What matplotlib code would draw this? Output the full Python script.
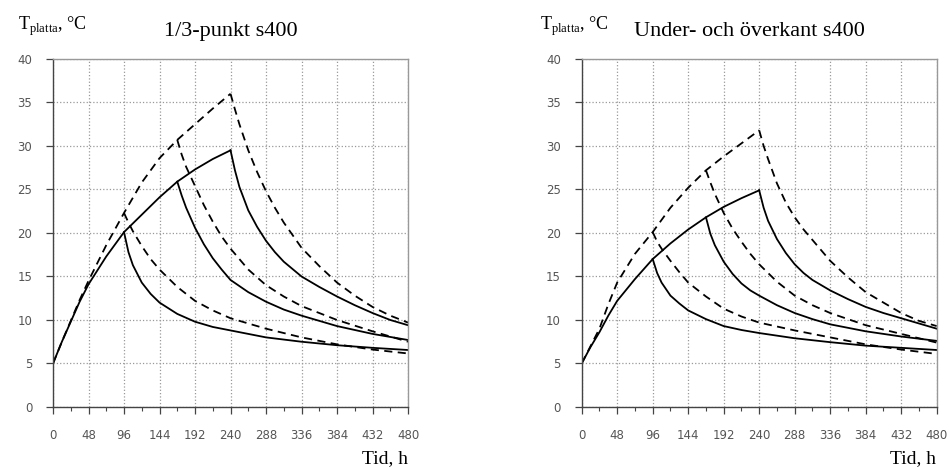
import matplotlib.pyplot as plt

# ---- left panel: 1/3-punkt s400 ----
heat_t = [0, 12, 24, 36, 48, 72, 96, 120, 144, 168, 192, 216, 240]
l_heat_solid = [5, 7.5, 9.8, 12.1, 14.1, 17.3, 20.1, 22.1, 24.1, 25.9, 27.3, 28.5, 29.5]
l_heat_dash = [5, 7.5, 9.9, 12.3, 14.5, 18.6, 22.3, 25.8, 28.6, 30.7, 32.5, 34.3, 36.0]

c96_t = [96, 102, 108, 120, 132, 144, 168, 192, 216, 240, 288, 336, 384, 432, 480]
l_c96_solid = [20.1, 17.8, 16.3, 14.3, 13.0, 12.0, 10.7, 9.8, 9.2, 8.8, 8.0, 7.5, 7.1, 6.8, 6.55]
l_c96_dash = [22.3, 21.2, 20.2, 18.5, 17.0, 15.8, 13.8, 12.2, 11.1, 10.2, 9.0, 8.0, 7.2, 6.6, 6.15]

c168_t = [168, 174, 180, 192, 204, 216, 228, 240, 264, 288, 312, 336, 384, 432, 480]
l_c168_solid = [25.9, 24.3, 22.9, 20.6, 18.7, 17.1, 15.8, 14.6, 13.2, 12.1, 11.2, 10.5, 9.3, 8.4, 7.7]
l_c168_dash = [30.7, 29.0, 27.6, 25.4, 23.2, 21.3, 19.6, 18.2, 15.8, 14.0, 12.7, 11.6, 10.0, 8.7, 7.5]

c240_t = [240, 246, 252, 264, 276, 288, 300, 312, 336, 360, 384, 408, 432, 456, 480]
l_c240_solid = [29.5, 27.2, 25.3, 22.6, 20.7, 19.1, 17.8, 16.7, 15.0, 13.8, 12.7, 11.7, 10.8, 10.0, 9.4]
l_c240_dash = [36.0, 34.2, 32.5, 29.5, 27.0, 24.8, 22.9, 21.2, 18.3, 16.2, 14.3, 12.8, 11.5, 10.5, 9.7]

# ---- right panel: Under- och överkant s400 ----
r_heat_solid = [5, 6.9, 8.6, 10.5, 12.2, 14.7, 17.0, 18.8, 20.4, 21.8, 23.0, 24.0, 24.9]
r_heat_dash = [5, 7.0, 9.0, 11.8, 14.3, 17.6, 20.1, 22.9, 25.2, 27.2, 28.8, 30.3, 31.8]

r_c96_solid = [17.0, 15.4, 14.3, 12.8, 11.9, 11.1, 10.1, 9.3, 8.85, 8.5, 7.9, 7.45, 7.05, 6.8, 6.55]
r_c96_dash = [20.1, 19.0, 18.2, 16.8, 15.5, 14.3, 12.7, 11.3, 10.4, 9.7, 8.8, 8.0, 7.2, 6.6, 6.1]

r_c168_solid = [21.8, 19.9, 18.6, 16.7, 15.3, 14.2, 13.4, 12.8, 11.7, 10.8, 10.1, 9.5, 8.7, 8.1, 7.6]
r_c168_dash = [27.2, 25.8, 24.5, 22.3, 20.5, 19.0, 17.6, 16.4, 14.4, 12.8, 11.7, 10.8, 9.4, 8.4, 7.4]

r_c240_solid = [24.9, 22.9, 21.4, 19.3, 17.7, 16.4, 15.4, 14.6, 13.4, 12.4, 11.5, 10.8, 10.2, 9.6, 9.0]
r_c240_dash = [31.8, 30.0, 28.5, 25.7, 23.5, 21.8, 20.4, 19.2, 16.8, 14.9, 13.2, 12.0, 10.8, 9.9, 9.3]

titles = ["1/3-punkt s400", "Under- och överkant s400"]
xticks = list(range(0, 481, 48))
yticks = list(range(0, 41, 5))

plt.rcParams['mathtext.fontset'] = 'custom'
plt.rcParams['mathtext.rm'] = 'Liberation Serif'

fig = plt.figure(figsize=(9.5, 4.71), dpi=100)
ax1 = fig.add_axes([0.0558, 0.1359, 0.3737, 0.7389])
ax2 = fig.add_axes([0.6123, 0.1359, 0.3737, 0.7389])

panels = [
    (ax1, l_heat_solid, l_heat_dash, [l_c96_solid, l_c168_solid, l_c240_solid], [l_c96_dash, l_c168_dash, l_c240_dash]),
    (ax2, r_heat_solid, r_heat_dash, [r_c96_solid, r_c168_solid, r_c240_solid], [r_c96_dash, r_c168_dash, r_c240_dash]),
]
cool_t = [c96_t, c168_t, c240_t]
dash = (0, (4.5, 3))

for ax, hs, hd, cs, cd in panels:
    ax.plot(heat_t, hs, color='black', lw=1.3)
    ax.plot(heat_t, hd, color='black', lw=1.3, ls=dash)
    for t, s, d in zip(cool_t, cs, cd):
        ax.plot(t, s, color='black', lw=1.3)
        ax.plot(t, d, color='black', lw=1.3, ls=dash)
    ax.set_xlim(0, 480)
    ax.set_ylim(0, 40)
    ax.set_xticks(xticks)
    ax.set_xticks(range(0, 481, 24), minor=True)
    ax.set_yticks(yticks)
    ax.grid(True, which='major', color='#999999', ls=':', lw=0.9)
    ax.tick_params(axis='both', which='major', labelsize=8.5, labelcolor='#555555',
                   color='#444444', length=5, width=0.9, direction='out')
    ax.tick_params(axis='x', which='minor', length=3, color='#444444', width=0.8)
    ax.tick_params(axis='x', pad=11)
    ax.tick_params(axis='y', pad=10)
    for side in ['left', 'bottom']:
        ax.spines[side].set_color('#444444')
        ax.spines[side].set_linewidth(1.0)
    for side in ['top', 'right']:
        ax.spines[side].set_color('#999999')
        ax.spines[side].set_linewidth(1.0)

# titles and axis labels
ylab = r'$\mathrm{T}_{\mathrm{platta}}$, °C'
fig.text(0.019, 0.945, ylab, fontsize=13, family='Liberation Serif', va='center')
fig.text(0.243, 0.933, titles[0], fontsize=16, family='Liberation Serif', ha='center', va='center')
fig.text(0.568, 0.945, ylab, fontsize=13, family='Liberation Serif', va='center')
fig.text(0.667, 0.933, titles[1], fontsize=16, family='Liberation Serif', ha='left', va='center')
fig.text(0.43, 0.026, 'Tid, h', fontsize=14, family='Liberation Serif', ha='right', va='center')
fig.text(0.985, 0.026, 'Tid, h', fontsize=14, family='Liberation Serif', ha='right', va='center')

plt.savefig('out.png', dpi=100)
